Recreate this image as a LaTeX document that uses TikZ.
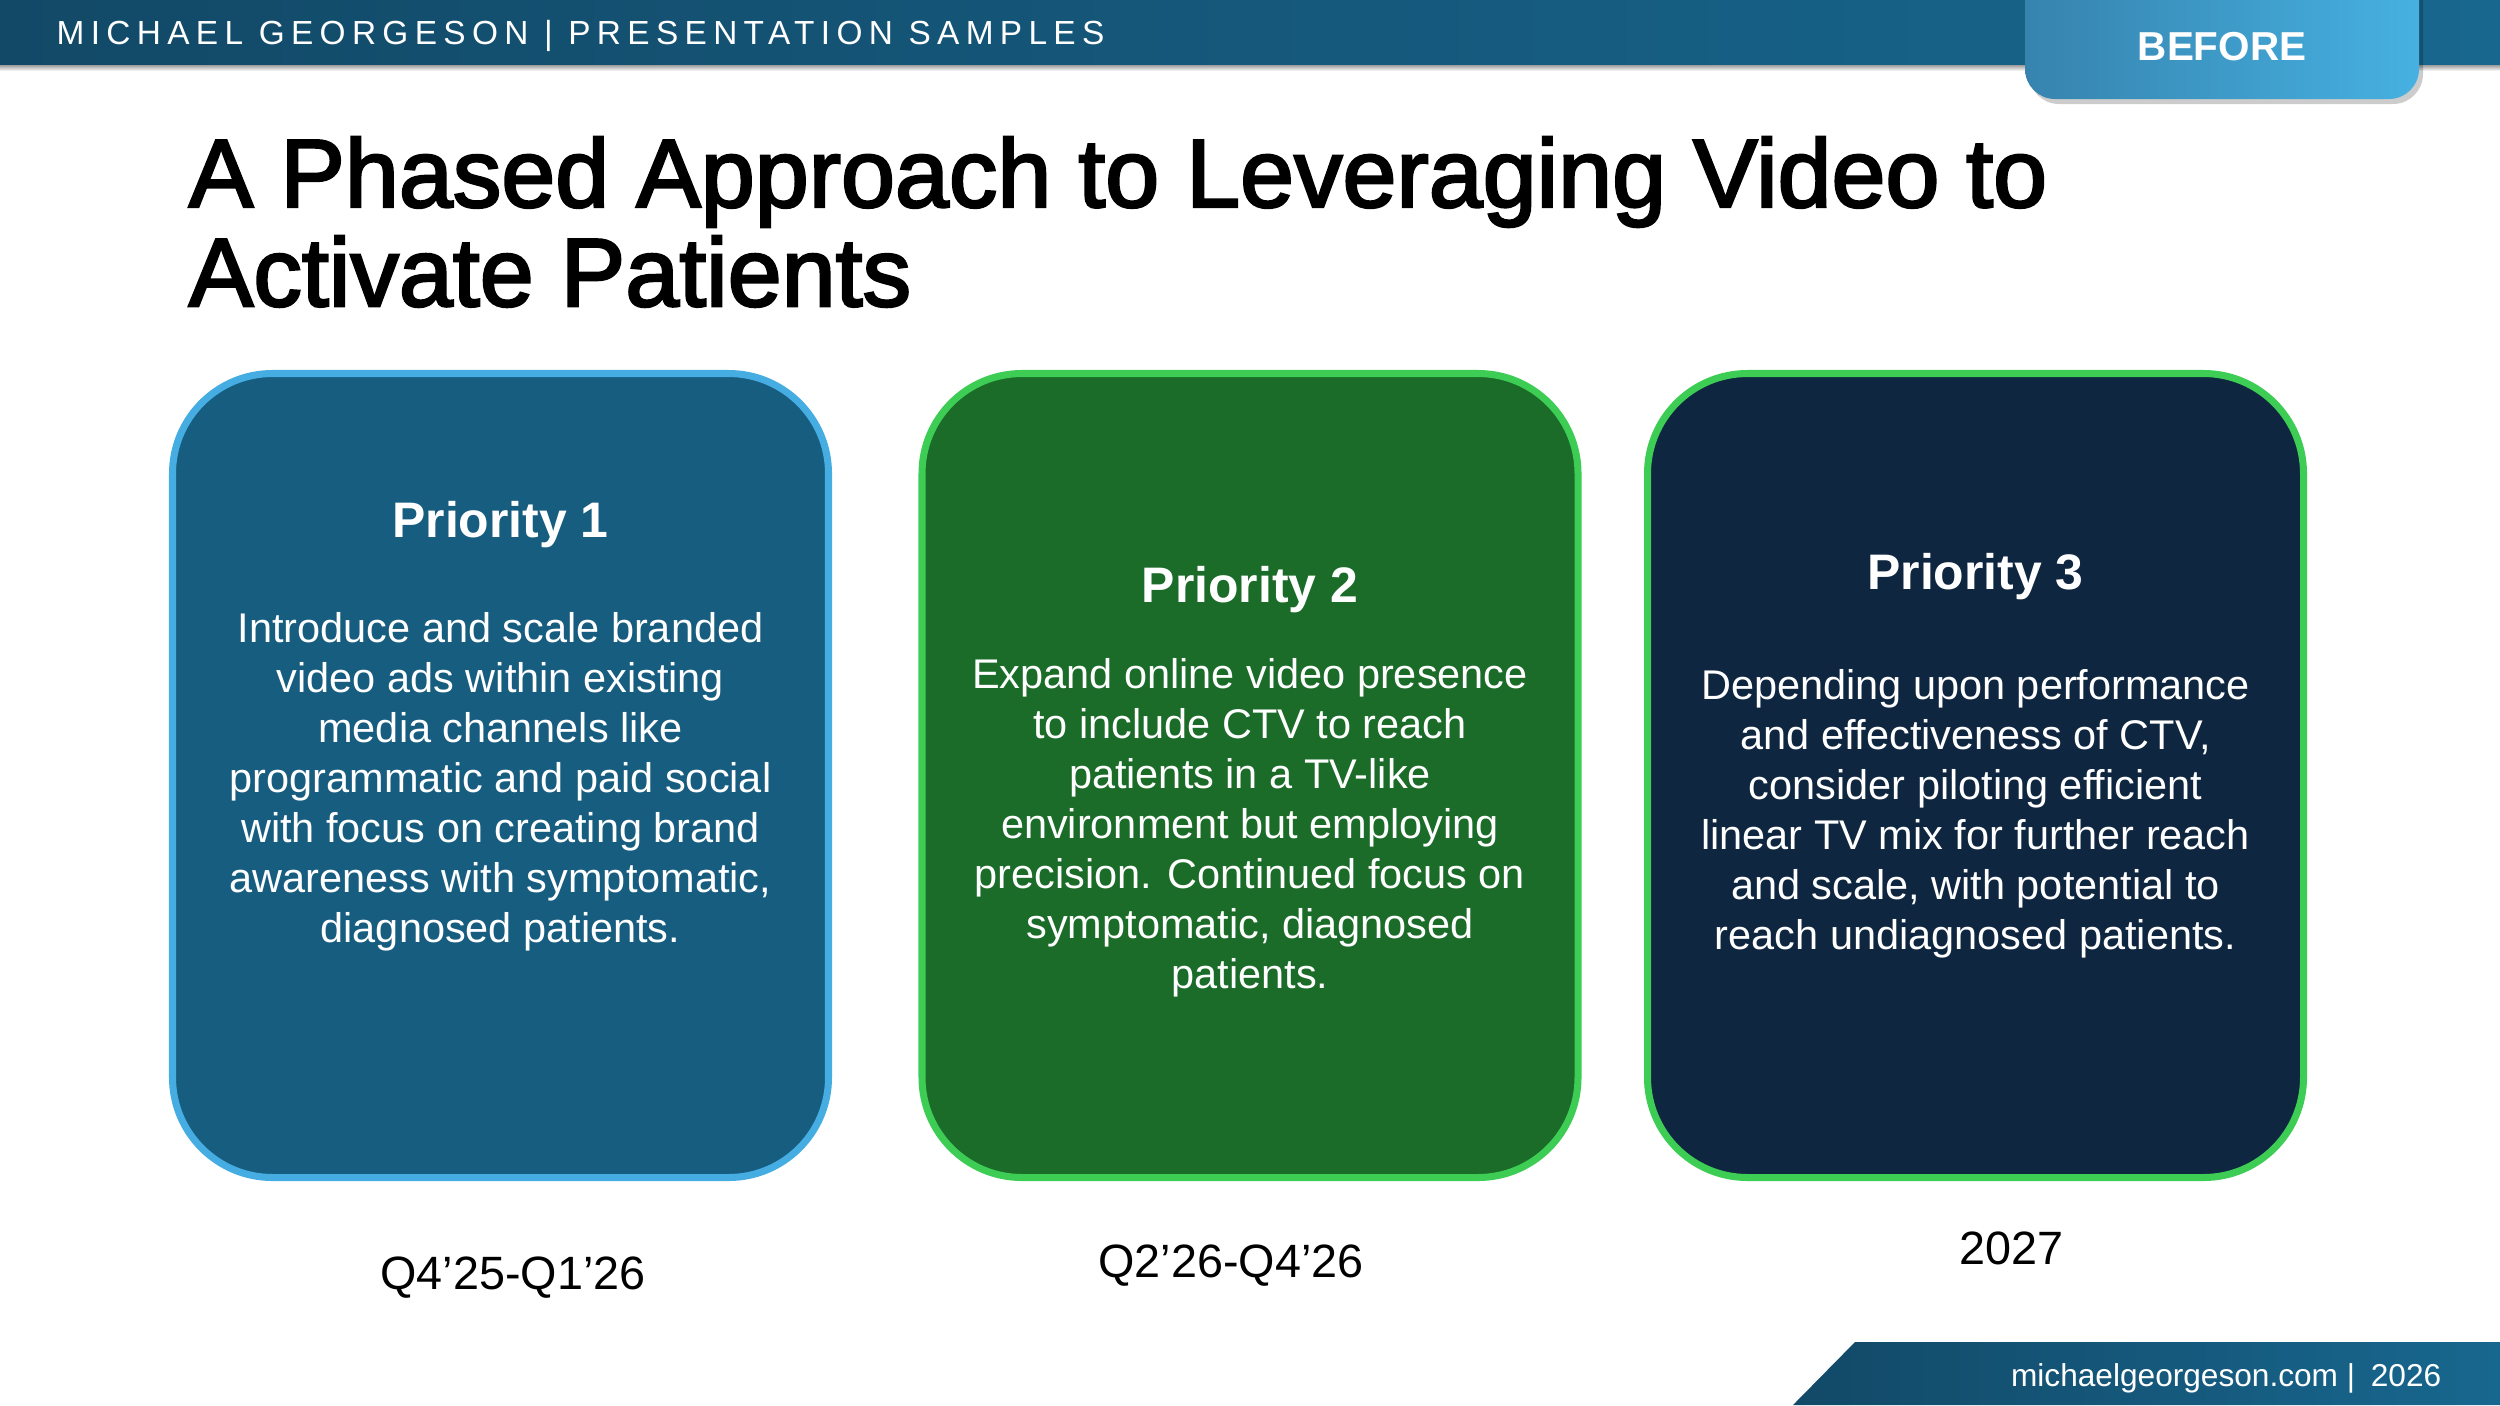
\documentclass[tikz,border=0pt]{standalone}
\usepackage{fontspec}
\setmainfont{Liberation Sans}
\newfontfamily\headfont{Liberation Sans}[LetterSpace=19]
\newfontfamily\titlefont{Liberation Sans}[FakeBold=2.5]
\usepackage{xcolor}
\definecolor{mgbarleft}{HTML}{124967}
\definecolor{mgbarright}{HTML}{18678F}
\definecolor{mgtableft}{HTML}{3683AE}
\definecolor{mgtabright}{HTML}{46B1E1}
\definecolor{mgblue}{HTML}{175D80}
\definecolor{mglightblue}{HTML}{45ADE1}
\definecolor{mggreen}{HTML}{1B6B29}
\definecolor{mglightgreen}{HTML}{3DCD55}
\definecolor{mgnavy}{HTML}{0F2640}
\usepackage{tikz}
\usetikzlibrary{calc}

\begin{document}
\begin{tikzpicture}[
    every node/.style={font=\fontsize{11.8}{14.2}\selectfont, text=white},
    phase/.style={
      rectangle, rounded corners=1cm,
      line width=2pt, inner sep=0pt,
      minimum width=6.56cm, minimum height=8.04cm},
    phasehead/.style={
      anchor=base, inner sep=0pt,
      font=\fontsize{14.2}{17}\selectfont\bfseries},
    phasetext/.style={
      anchor=north, align=center, inner sep=0pt},
    phasedate/.style={
      anchor=base, inner sep=0pt, text=black,
      font=\fontsize{13.3}{16}\selectfont}
  ]
    \useasboundingbox[fill=white] (0,0) rectangle (25,-14.05);

    \shade[top color=black!45, bottom color=white] (0,-0.64) rectangle (25,-0.71);
    \shade[left color=mgbarleft, right color=mgbarright] (0,0) rectangle (25,-0.64);
    \node[anchor=base west, inner sep=0pt, font=\fontsize{9.5}{11}\headfont]
      (header) at (0.56,-0.44) {MICHAEL GEORGESON | PRESENTATION SAMPLES};

    \fill[black, opacity=0.2, rounded corners=0.3cm] (20.29,0.5) rectangle (24.23,-1.04);
    \shade[shading angle=60, left color=mgtableft, right color=mgtabright,
      rounded corners=0.3cm] (20.25,0.5) rectangle (24.19,-0.99);
    \node[anchor=base, inner sep=0pt, font=\fontsize{11.5}{13}\selectfont\bfseries]
      (tab) at (22.22,-0.60) {BEFORE};

    \node[anchor=north west, align=left, inner sep=0pt, text=black,
      font=\fontsize{27.6}{28.2}\titlefont]
      (title) at (1.88,-1.36) {A Phased Approach to Leveraging Video to\\Activate Patients};

    \node[phase, fill=mgblue, draw=mglightblue] (p1) at (5.005,-7.755) {};
    \node[phase, fill=mggreen, draw=mglightgreen] (p2) at (12.5,-7.755) {};
    \node[phase, fill=mgnavy, draw=mglightgreen] (p3) at (19.755,-7.755) {};

    \node[phasehead] (h1) at (5.005,-5.37) {Priority 1};
    \node[phasehead] (h2) at (12.5,-6.02) {Priority 2};
    \node[phasehead] (h3) at (19.755,-5.89) {Priority 3};

    \node[phasetext] (t1) at (5.005,-6.12)
      {Introduce and scale branded\\video ads within existing\\media channels like\\
       programmatic and paid social\\with focus on creating brand\\
       awareness with symptomatic,\\diagnosed patients.};
    \node[phasetext] (t2) at (12.5,-6.58)
      {Expand online video presence\\to include CTV to reach\\patients in a TV-like\\
       environment but employing\\precision. Continued focus on\\
       symptomatic, diagnosed\\patients.};
    \node[phasetext] (t3) at (19.755,-6.69)
      {Depending upon performance\\and effectiveness of CTV,\\consider piloting efficient\\
       linear TV mix for further reach\\and scale, with potential to\\
       reach undiagnosed patients.};

    \node[phasedate] (d1) at (5.13,-12.89) {Q4’25-Q1’26};
    \node[phasedate] (d2) at (12.31,-12.77) {Q2’26-Q4’26};
    \node[phasedate] (d3) at (20.11,-12.64) {2027};

    \shade[left color=mgbarleft, right color=mgbarright]
      (17.93,-14.05) -- (18.55,-13.42) -- (25,-13.42) -- (25,-14.05) -- cycle;
    \node[anchor=base east, inner sep=0pt, font=\fontsize{9}{11}\selectfont]
      (footer) at (24.42,-13.86) {michaelgeorgeson.com |\hspace{0.5em}2026};
\end{tikzpicture}
\end{document}
